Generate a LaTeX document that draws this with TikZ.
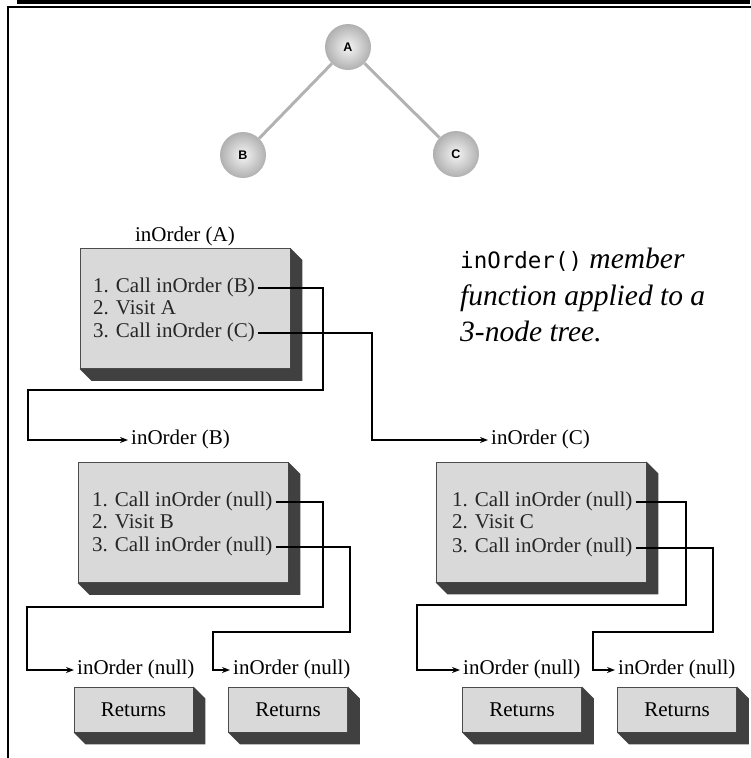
\documentclass[tikz,border=0pt]{standalone}
\usepackage{fontspec}
\setmainfont{Liberation Serif}
\newfontfamily\codefont{DejaVu Sans Mono}
\newfontfamily\keyfont{Liberation Sans}
\usetikzlibrary{arrows.meta,calc}

\begin{document}
\begin{tikzpicture}[
    x=1pt, y=-1pt,
    treenode/.style={circle, minimum size=46pt, inner sep=0pt, inner color=gray!8, outer color=gray!62, font=\keyfont\bfseries\fontsize{12.5}{14}\selectfont},
    treeedge/.style={draw=gray!60, line width=3pt},
    callbox/.style={rectangle, draw=black!70, line width=0.8pt, fill=gray!30, minimum width=210pt, minimum height=120pt, inner sep=0pt},
    retbox/.style={rectangle, draw=black!70, line width=0.8pt, fill=gray!30, minimum width=119pt, minimum height=45pt, inner sep=0pt, font=\fontsize{21}{25}\selectfont},
    callline/.style={anchor=west, inner sep=3pt, text height=14pt, text depth=5pt, text=black!85, font=\fontsize{21}{25}\selectfont},
    calllabel/.style={inner sep=3pt, text height=14pt, text depth=5pt, font=\fontsize{21}{25}\selectfont},
    note/.style={anchor=base west, inner sep=0pt, font=\itshape\fontsize{29.5}{36}\selectfont},
    extrude/.style={fill=black!75},
    conn/.style={->, >={Stealth[length=8pt,width=6pt]}, line width=1.5pt}
  ]
    \useasboundingbox (0,0) rectangle (751,758);

    % page frame
    \draw[line width=3.5pt] (19,-4) -- (19,2) -- (748,2) -- (748,-4);
    \draw[line width=2pt] (7.5,762) -- (7.5,6.5) -- (755,6.5);

    % the 3-node tree
    \node[treenode] (A) at (348,47) {A};
    \node[treenode] (B) at (243,155) {B};
    \node[treenode] (C) at (456,154) {C};
    \draw[treeedge] (A) -- (B);
    \draw[treeedge] (A) -- (C);

    % caption
    \node[note] (note1) at (460,268) {{\upshape\codefont\fontsize{22.5}{36}\selectfont inOrder()} member};
    \node[note] (note2) at (460,305) {function applied to a};
    \node[note] (note3) at (460,341) {3-node tree.};

    % call for A
    \node[calllabel] (lblA) at (185,237) {inOrder (A)};
    \node[callbox] (boxA) at (185,308.5) {};
    \node[callline] (a1) at (90,288) {1. Call inOrder (B)};
    \node[callline] (a2) at (90,310) {2. Visit A};
    \node[callline] (a3) at (90,333) {3. Call inOrder (C)};

    % calls for B and C
    \node[calllabel, anchor=west] (lblB) at (128,440) {inOrder (B)};
    \node[calllabel, anchor=west] (lblC) at (488,440) {inOrder (C)};

    \node[callbox] (boxB) at (183,522.5) {};
    \node[callline] (b1) at (89,502) {1. Call inOrder (null)};
    \node[callline] (b2) at (89,524) {2. Visit B};
    \node[callline] (b3) at (89,547) {3. Call inOrder (null)};

    \node[callbox] (boxC) at (541,522) {};
    \node[callline] (c1) at (449,502) {1. Call inOrder (null)};
    \node[callline] (c2) at (449,524) {2. Visit C};
    \node[callline] (c3) at (449,548) {3. Call inOrder (null)};

    % null calls
    \node[calllabel, anchor=west] (n1) at (74,670) {inOrder (null)};
    \node[calllabel, anchor=west] (n2) at (230,670) {inOrder (null)};
    \node[calllabel, anchor=west] (n3) at (460,670) {inOrder (null)};
    \node[calllabel, anchor=west] (n4) at (615,670) {inOrder (null)};

    \node[retbox] (ret1) at (133.5,709.5) {Returns};
    \node[retbox] (ret2) at (288,709.5) {Returns};
    \node[retbox] (ret3) at (522,709.5) {Returns};
    \node[retbox] (ret4) at (677,709.5) {Returns};

    % 3-d edges of the boxes
    \foreach \b in {boxA,boxB,boxC,ret1,ret2,ret3,ret4}
      \fill[extrude] (\b.north east) -- ++(12,12) -- ($(\b.south east)+(12,12)$)
        -- ($(\b.south west)+(12,12)$) -- (\b.south west) -- (\b.south east) -- cycle;

    % calls
    \draw[conn] (a1.east) -| (323,390) -| (28,440) -- (lblB.west);
    \draw[conn] (a3.east) -| (372,440) -- (lblC.west);
    \draw[conn] (b1.east) -| (323,607) -| (27,670) -- (n1.west);
    \draw[conn] (b3.east) -| (350,632) -| (213,670) -- (n2.west);
    \draw[conn] (c1.east) -| (686,605) -| (417,670) -- (n3.west);
    \draw[conn] (c3.east) -| (713,632) -| (593,670) -- (n4.west);

  \end{tikzpicture}
\end{document}
